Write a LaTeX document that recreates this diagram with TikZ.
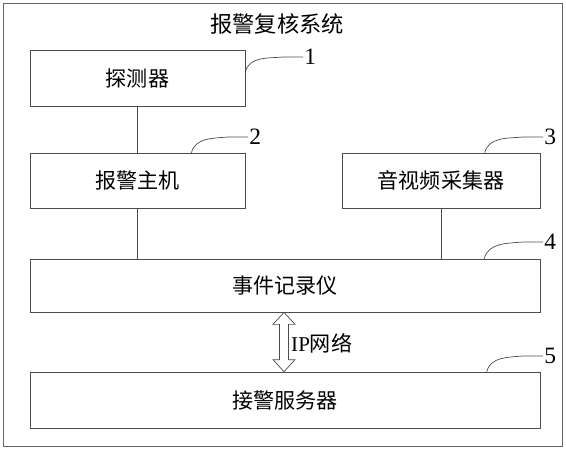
\documentclass[tikz,border=0pt]{standalone}
\usepackage{fontspec}
\setmainfont{Liberation Serif}
\newfontfamily\cjk{Noto Sans CJK SC}
\usetikzlibrary{calc}

\begin{document}
\begin{tikzpicture}[x=0.03cm, y=0.03cm,
  box/.style={draw=black!70, line width=0.6pt, inner sep=0pt,
              font=\cjk\fontsize{18}{20}\selectfont},
  wide/.style={box, minimum width=15.3cm},
  narrow/.style={box, minimum width=6.45cm},
  link/.style={draw=black!70, line width=0.6pt},
  num/.style={anchor=west, inner sep=1pt, font=\fontsize{20}{22}\selectfont}
]
\useasboundingbox (0,0) rectangle (566,-450);
% Frame and title
\draw[black!60, line width=0.6pt] (3,-3) rectangle (562,-446);
\node[font=\cjk\fontsize{19}{21}\selectfont] (title) at (277,-24) {报警复核系统};
% Boxes
\node[narrow, minimum height=1.68cm] (b1) at (137.5,-78)  {探测器};
\node[narrow, minimum height=1.65cm] (b2) at (137.5,-180.5) {报警主机};
\node[box, minimum width=5.94cm, minimum height=1.65cm] (b3) at (441,-180.5) {音视频采集器};
\node[wide, minimum height=1.59cm] (b4) at (285,-285.5) {事件记录仪};
\node[wide, minimum height=1.68cm] (b5) at (285,-400) {接警服务器};
% Links
\draw[link] (b1.south) -- (b2.north);
\draw[link] (b2.south) -- (b2.south |- b4.north);
\draw[link] (b3.south) -- (b3.south |- b4.north);
% IP network
\coordinate (ipt) at ($(b4.south)+(-1,0)$);
\coordinate (ipb) at (ipt |- b5.north);
\draw[link, line join=miter] (ipt) -- ++(11,-12) -- ++(-6.5,0)
  -- ($(ipb)+(4.5,12)$) -- ++(6.5,0) -- (ipb) -- ++(-11,12) -- ++(6.5,0)
  -- ($(ipt)+(-4.5,-12)$) -- ++(-6.5,0) -- cycle;
\node[anchor=west, inner sep=0pt, font=\fontsize{18}{20}\selectfont] (iplabel)
      at (291,-343) {IP{\cjk 网络}};
% Numbers
\node[num] (l1) at (303,-57)  {1};
\node[num] (l2) at (248,-137) {2};
\node[num] (l3) at (543,-137) {3};
\node[num] (l4) at (543,-242) {4};
\node[num] (l5) at (543,-356) {5};
\draw[link] ($(b1.north east)!0.39!(b1.south east)$) to[out=75,in=185] ($(l1.west)+(-20,0)$) -- (l1.west);
\draw[link] ($(b2.north west)!0.75!(b2.north east)$) to[out=75,in=185] ($(l2.west)+(-20,0)$) -- (l2.west);
\draw[link] ($(b3.north west)!0.72!(b3.north east)$) to[out=75,in=185] ($(l3.west)+(-20,0)$) -- (l3.west);
\draw[link] ($(b4.north west)!0.89!(b4.north east)$) to[out=75,in=185] ($(l4.west)+(-20,0)$) -- (l4.west);
\draw[link] ($(b5.north west)!0.895!(b5.north east)$) to[out=75,in=185] ($(l5.west)+(-20,0)$) -- (l5.west);
\end{tikzpicture}
\end{document}
